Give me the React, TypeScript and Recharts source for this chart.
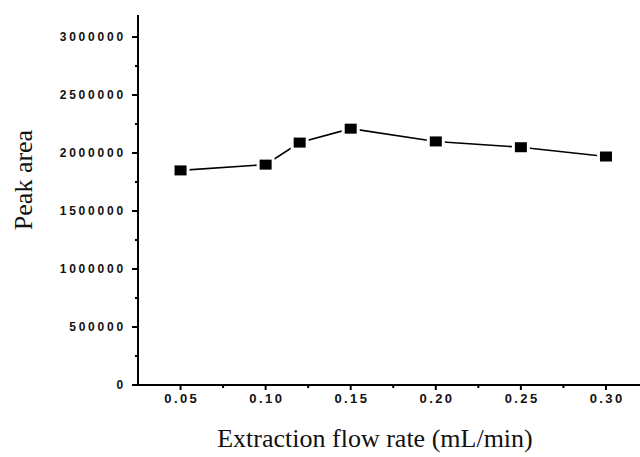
import React from 'react';
import { LineChart, Line, XAxis, YAxis, Label } from 'recharts';

const flowRates = [0.05, 0.1, 0.12, 0.15, 0.2, 0.25, 0.3];
const peakAreas = [1850000, 1900000, 2090000, 2210000, 2100000, 2050000, 1970000];

const xMajorTicks = [0.05, 0.1, 0.15, 0.2, 0.25, 0.3];
const xMinorTicks = [0.075, 0.125, 0.175, 0.225, 0.275];
const xTickLabels = ['0.05', '0.10', '0.15', '0.20', '0.25', '0.30'];

const yMajorTicks = [0, 500000, 1000000, 1500000, 2000000, 2500000, 3000000];
const yMinorTicks = [250000, 750000, 1250000, 1750000, 2250000, 2750000];

const data = flowRates.map((x, i) => ({ x, y: peakAreas[i] }));

const xTickFont = {
  fontFamily: '"Liberation Sans", Arial, sans-serif',
  fontSize: 13,
  fontWeight: 700,
  letterSpacing: 2.4,
  fill: '#111',
};

const yTickFont = {
  fontFamily: '"Liberation Sans", Arial, sans-serif',
  fontSize: 12,
  fontWeight: 700,
  letterSpacing: 2.8,
  fill: '#111',
};

const XTick = (props: any) => {
  const { x, y, payload } = props;
  const idx = xMajorTicks.indexOf(payload.value);
  const major = idx >= 0;
  return (
    <g>
      <line x1={x} x2={x} y1={y} y2={y + (major ? 5 : 3)} stroke="#000" strokeWidth={2} />
      {major && (
        <text x={x + 1.2} y={y + 18} textAnchor="middle" style={xTickFont}>
          {xTickLabels[idx]}
        </text>
      )}
    </g>
  );
};

const YTick = (props: any) => {
  const { x, y, payload } = props;
  const major = yMajorTicks.indexOf(payload.value) >= 0;
  return (
    <g>
      <line x1={x} x2={x - (major ? 6 : 3)} y1={y} y2={y} stroke="#000" strokeWidth={2} />
      {major && (
        <text x={x - 12} y={y + 4} textAnchor="end" style={yTickFont}>
          {String(payload.value)}
        </text>
      )}
    </g>
  );
};

const SquareDot = (props: any) => {
  const { cx, cy } = props;
  if (cx == null || cy == null) return null;
  return (
    <g>
      <rect x={cx - 9} y={cy - 7.5} width={18} height={15} fill="#fff" />
      <rect x={cx - 6} y={cy - 5} width={12} height={10} fill="#000" />
    </g>
  );
};

const labelFont = {
  fontFamily: '"Liberation Serif", "Times New Roman", serif',
  fontSize: 26,
  fill: '#111',
};

export default function App() {
  return (
    <div style={{ position: 'absolute', left: 0, top: 0, background: '#fff' }}>
      <LineChart
        width={640}
        height={457}
        data={data}
        margin={{ top: 15, right: 0, bottom: 0, left: 0 }}
      >
        <XAxis
          dataKey="x"
          type="number"
          domain={[0.025, 0.32]}
          ticks={[...xMajorTicks, ...xMinorTicks]}
          interval={0}
          height={72}
          tickSize={0}
          tickMargin={0}
          tickLine={false}
          tick={<XTick />}
          axisLine={{ stroke: '#000', strokeWidth: 2 }}
          allowDataOverflow
        >
          <Label
            content={() => (
              <text x={375} y={447} textAnchor="middle" style={labelFont}>
                Extraction flow rate (mL/min)
              </text>
            )}
          />
        </XAxis>
        <YAxis
          type="number"
          domain={[0, 3190000]}
          ticks={[...yMajorTicks, ...yMinorTicks]}
          interval={0}
          width={138}
          tickSize={0}
          tickMargin={0}
          tickLine={false}
          tick={<YTick />}
          axisLine={{ stroke: '#000', strokeWidth: 2 }}
          allowDataOverflow
        >
          <Label
            content={() => (
              <text
                x={32}
                y={180}
                textAnchor="middle"
                transform="rotate(-90 32 180)"
                style={labelFont}
              >
                Peak area
              </text>
            )}
          />
        </YAxis>
        <Line
          dataKey="y"
          stroke="#000"
          strokeWidth={1.6}
          dot={<SquareDot />}
          activeDot={false}
          isAnimationActive={false}
        />
      </LineChart>
    </div>
  );
}
